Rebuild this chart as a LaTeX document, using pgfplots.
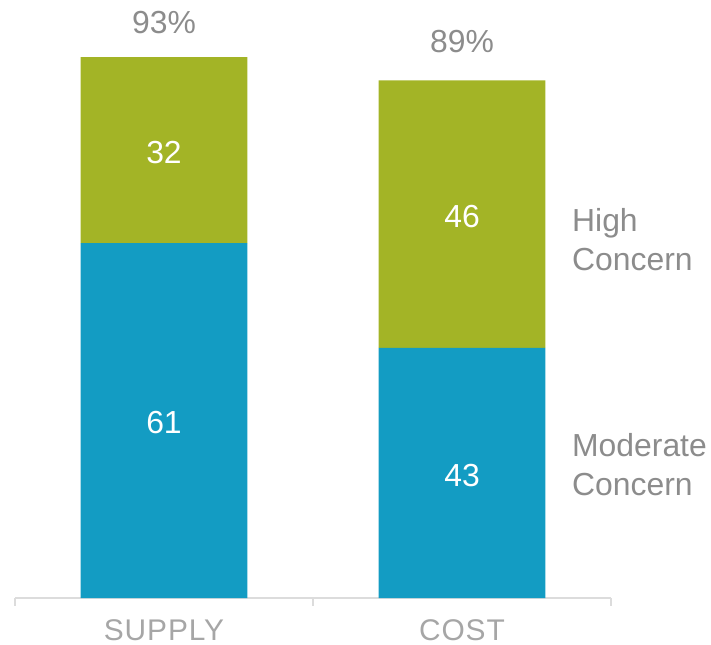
\documentclass[border=0pt]{standalone}
\usepackage{fontspec}
\setmainfont{Liberation Sans}
\newfontfamily\spaced[LetterSpace=3]{Liberation Sans}
\usepackage{pgfplots}
\pgfplotsset{compat=1.18}
\usetikzlibrary{calc}
\definecolor{cgreen}{HTML}{A3B426}
\definecolor{cblue}{HTML}{139CC3}
\definecolor{tgrey}{HTML}{8C8C8C}
\definecolor{lgrey}{HTML}{A6A6A6}
\definecolor{agrey}{HTML}{DCDCDC}
\tikzset{lbl/.style={font=\fontsize{32}{38}\selectfont}}
\pgfplotsset{base/.style={scale only axis, width=596bp, height=598bp,
  xmin=-0.5, xmax=1.5, ymin=0, ymax=102.8, clip=false}}
\begin{document}
\begin{tikzpicture}
\begin{axis}[
  base,
  axis y line=none,
  axis x line*=bottom,
  x axis line style={draw=agrey, line width=1.5bp},
  xtick={-0.5,0.5,1.5}, xticklabels={},
  tick align=outside,
  major tick length=8bp,
  x tick style={draw=agrey, line width=1.5bp},
  ytick=\empty,
  extra x ticks={0,1},
  extra x tick labels={SUPPLY,COST},
  extra x tick style={major tick length=0pt},
  xticklabel style={anchor=base, yshift=-42bp, font=\fontsize{30}{36}\selectfont\spaced, text=lgrey},
  ybar stacked, bar width=0.56,
]
\addplot[fill=cblue, draw=none] coordinates {(0,61) (1,43)};
\addplot[fill=cgreen, draw=none] coordinates {(0,32) (1,46)};
\end{axis}
\begin{axis}[base, hide axis]
\node[lbl, text=white, anchor=center] at (axis cs:0,30.1) {61};
\node[lbl, text=white, anchor=center] at (axis cs:0,76.6) {32};
\node[lbl, text=white, anchor=center] at (axis cs:1,21.0) {43};
\node[lbl, text=white, anchor=center] at (axis cs:1,65.6) {46};
\node[lbl, text=tgrey, anchor=base] at (axis cs:0,97.1) {93\%};
\node[lbl, text=tgrey, anchor=base] at (axis cs:1,93.7) {89\%};
\node[lbl, text=tgrey, anchor=base west, inner sep=0pt] at (axis cs:1.369,63.0) {High};
\node[lbl, text=tgrey, anchor=base west, inner sep=0pt] at (axis cs:1.369,56.3) {Concern};
\node[lbl, text=tgrey, anchor=base west, inner sep=0pt] at (axis cs:1.369,24.4) {Moderate};
\node[lbl, text=tgrey, anchor=base west, inner sep=0pt] at (axis cs:1.369,17.7) {Concern};
\end{axis}
\pgfresetboundingbox
\path ($(current axis.south west)+(-15bp,-47bp)$) rectangle ($(current axis.north east)+(100bp,0bp)$);
\end{tikzpicture}
\end{document}
